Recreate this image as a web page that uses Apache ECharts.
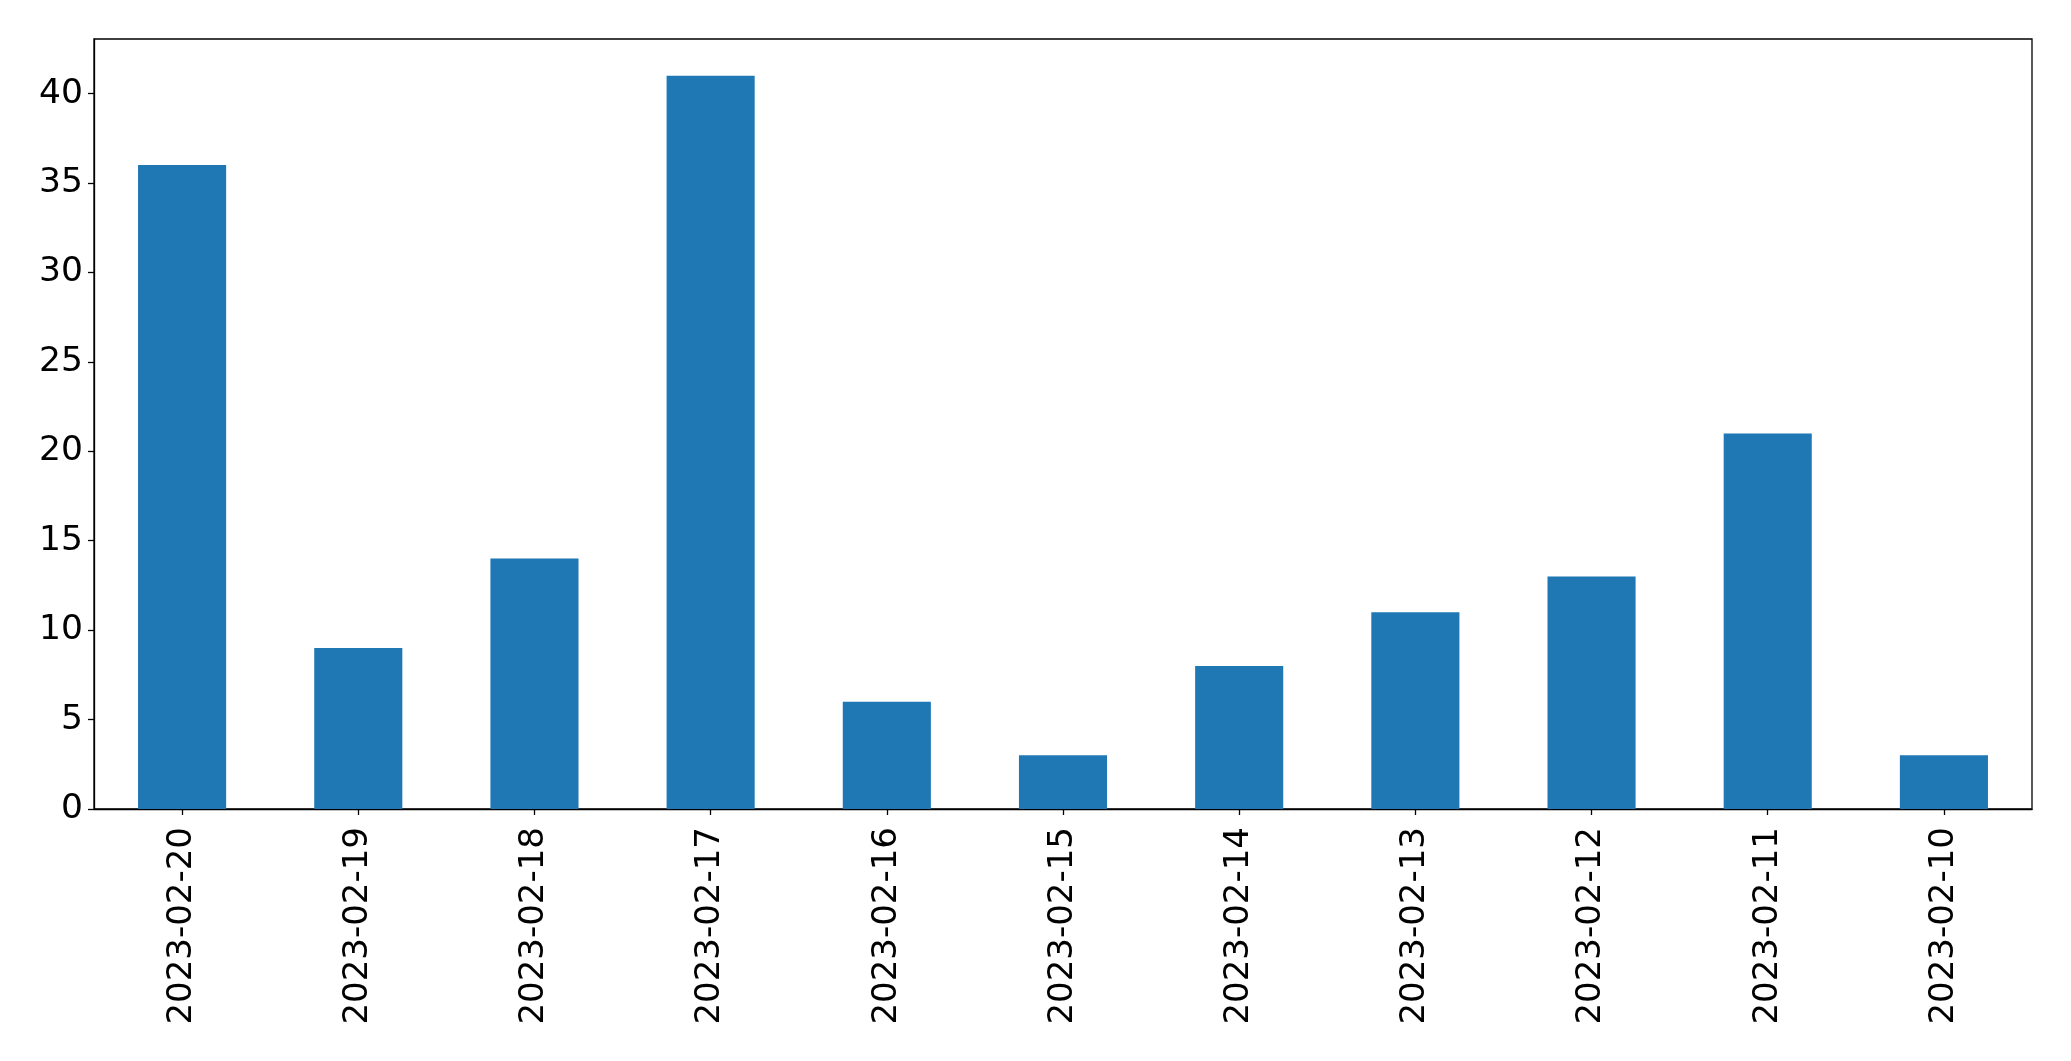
<!DOCTYPE html>
<html>
<head>
<meta charset="utf-8">
<script src="https://cdn.jsdelivr.net/npm/echarts@6/dist/echarts.min.js"></script>
<style>
html,body{margin:0;padding:0;background:#fff;}
#chart{width:2071px;height:1061px;}
</style>
</head>
<body>
<div id="chart"></div>
<script>
const categories = ['2023-02-20','2023-02-19','2023-02-18','2023-02-17','2023-02-16','2023-02-15','2023-02-14','2023-02-13','2023-02-12','2023-02-11','2023-02-10'];
const values = [36, 9, 14, 41, 6, 3, 8, 11, 13, 21, 3];

const chart = echarts.init(document.getElementById('chart'), null, {renderer: 'canvas'});
const font = 'DejaVu Sans';
chart.setOption({
  animation: false,
  backgroundColor: '#fff',
  grid: {left: 94, right: 39, top: 39, bottom: 252, show: true, borderColor: '#000', borderWidth: 1.3, containLabel: false},
  xAxis: {
    type: 'category',
    data: categories,
    boundaryGap: true,
    axisLine: {show: true, lineStyle: {color: '#000', width: 1.3}},
    axisTick: {show: true, alignWithLabel: true, length: 6, lineStyle: {color: '#000', width: 1.3}},
    axisLabel: {rotate: 90, margin: 18, fontFamily: font, fontSize: 34, color: '#000', interval: 0},
    splitLine: {show: false}
  },
  yAxis: {
    type: 'value',
    min: 0,
    max: 43.05,
    interval: 5,
    axisLine: {show: true, lineStyle: {color: '#000', width: 1.3}},
    axisTick: {show: true, length: 6, lineStyle: {color: '#000', width: 1.3}},
    axisLabel: {showMaxLabel: false, margin: 11, padding: [6, 0, 0, 0], fontFamily: font, fontSize: 34.5, color: '#000'},
    splitLine: {show: false}
  },
  series: [{
    type: 'bar',
    data: values,
    barWidth: '50%',
    itemStyle: {color: '#1f77b4'}
  }]
});
</script>
</body>
</html>
